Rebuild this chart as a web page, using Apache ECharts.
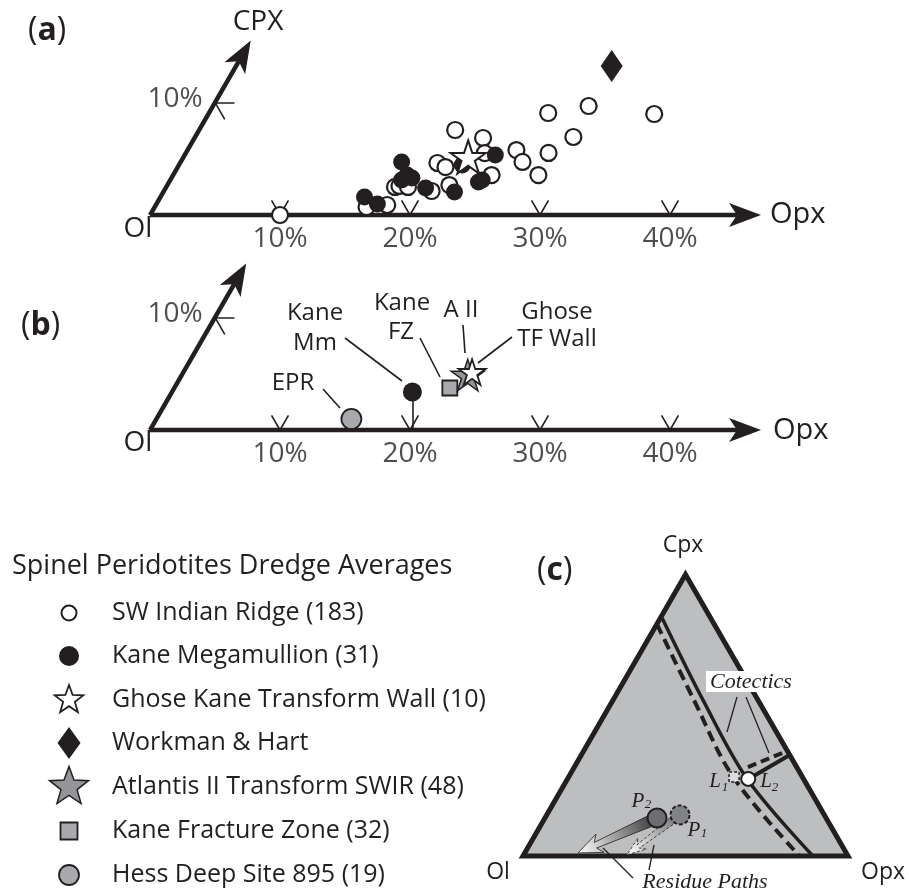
<!DOCTYPE html>
<html>
<head>
<meta charset="utf-8">
<script src="https://cdn.jsdelivr.net/npm/echarts@6/dist/echarts.min.js"></script>
<style>
  html, body { margin: 0; padding: 0; background: #fff; }
  #chart { width: 909px; height: 891px; }
</style>
</head>
<body>
<div id="chart"></div>
<script>
// ternary composition [opx %, cpx %] -> cartesian units (1 unit = 1 % along Opx)
const S3 = Math.sqrt(3) / 2
const tern = (p) => [p[0] + p[1] / 2, p[1] * S3]

// panel (a): dredge averages, [opx %, cpx %]
const swirPts = [
  [10.0, 0], [19.7, 7.55], [22.2, 6.84], [25.3, 5.77], [26.3, 4.71], [28.1, 3.55],
  [19.8, 4.62], [20.6, 4.26], [21.7, 2.66], [20.6, 2.13], [24.5, 3.55], [23.0, 5.5],
  [17.6, 2.49], [17.9, 2.58], [18.6, 2.49], [17.8, 0.89], [16.3, 0.71], [26.1, 9.06],
  [28.9, 9.68], [34.3, 8.97], [29.1, 6.93], [27.9, 5.51]
]
const kaneMmPts = [
  [15.7, 1.6], [17.0, 0.98], [17.0, 4.71], [18.0, 3.55], [18.5, 3.29], [17.8, 3.11],
  [20.0, 2.4], [22.4, 2.04], [21.8, 4.44], [23.9, 5.33], [23.8, 2.93], [24.0, 3.11]
]
const ghosePts = [[21.9, 5.15]]
const workmanPts = [[28.9, 13.23]]

// panel (b): regional averages
const hessAvg = [[15.0, 0.98]]
const kaneMmAvg = [[18.5, 3.37]]
const kaneFzAvg = [[21.2, 3.73]]
const atlantisAvg = [[22.0, 4.88]]
const ghoseAvg = [[22.2, 5.15]]

// axis ticks (percent)
const opxTicks = [10, 20, 30, 40]
const cpxTicks = [10]

// panel (c) schematic, [opx %, cpx %]
const triVerts = [[0, 0], [100, 0], [0, 100]]
const cotecticSolid = [[0.5, 84.6], [27.7, 55.4], [55.7, 27.0], [89.2, 0]]
const cotecticDashed = [[0, 82.4], [24.9, 55.4], [50.6, 28.1], [84.7, 0.3]]
const tieSolid = [[56.4, 28.1], [64.1, 35.9]]
const tieDashed = [[53.4, 31.6], [62.6, 37.3]]
const liquidL1 = [[50.9, 28.1]]
const liquidL2 = [[55.6, 27.4]]
const peridP2 = [[34.5, 13.5]]
const peridP1 = [[41.0, 14.6]]
const residuePaths = [[34.5, 13.5, 16.4, 1.1], [41.0, 14.6, 31.8, 0.4]]

const INK = '#231f20'
const GREY = '#a7a9ac'
const GREY_D = '#939598'
const SANS = '"Open Sans", sans-serif'
const SERIF = '"Liberation Serif", "DejaVu Serif", serif'
const STAR = 'path://M50 0 L61.23 34.55 L97.55 34.55 L68.16 55.9 L79.39 90.45 L50 69.1 L20.61 90.45 L31.84 55.9 L2.45 34.55 L38.77 34.55 Z'

const starPts = (R, r) => {
  const pts = []
  for (let i = 0; i < 10; i++) {
    const a = (-90 + i * 36) * Math.PI / 180
    const rr = i % 2 ? r : R
    pts.push([rr * Math.cos(a), rr * Math.sin(a)])
  }
  return pts
}

const seg = (a, b) => ({ coords: [tern(a), tern(b)] })

function along(a, b) {
  const dx = b[0] - a[0], dy = b[1] - a[1]
  const L = Math.hypot(dx, dy)
  const ux = dx / L, uy = dy / L
  return { L, at: (t, w) => [a[0] + ux * t - uy * w, a[1] + uy * t + ux * w] }
}

// axis arrow drawn in pixel space from data end points
function axisArrow(params, api) {
  const a = api.coord([api.value(0), api.value(1)])
  const b = api.coord([api.value(2), api.value(3)])
  const g = along(a, b)
  const len = 32, half = 12, notch = 8
  const neck = g.at(g.L - len + notch, 0)
  return {
    type: 'group',
    children: [
      { type: 'line', shape: { x1: a[0], y1: a[1], x2: neck[0], y2: neck[1] }, style: { stroke: INK, lineWidth: 4.5 } },
      { type: 'polygon', shape: { points: [g.at(g.L, 0), g.at(g.L - len, half), neck, g.at(g.L - len, -half)] }, style: { fill: INK } }
    ]
  }
}

function axisSeries(gi, cpxEnd, labelDy) {
  const ticks = []
  opxTicks.forEach((t) => {
    ticks.push(seg([t, 0], [t - 1.3, 1.3]), seg([t, 0], [t, 1.3]))
  })
  cpxTicks.forEach((t) => {
    ticks.push(seg([0, t], [1.5, t]), seg([0, t], [1.5, t - 1.5]))
  })
  const labels = opxTicks.map((t) => ({ value: tern([t, 0]), label: { formatter: t + '%', offset: [0, labelDy] } }))
    .concat(cpxTicks.map((t) => ({ value: tern([0, t]), label: { formatter: t + '%', offset: [-40, -3] } })))
  return [
    {
      type: 'custom', coordinateSystem: 'cartesian2d', xAxisIndex: gi, yAxisIndex: gi, silent: true, z: 2,
      data: [[...tern([0, 0]), ...tern([47, 0])], [...tern([0, 0]), ...tern([0, cpxEnd])]],
      renderItem: axisArrow
    },
    {
      type: 'lines', coordinateSystem: 'cartesian2d', xAxisIndex: gi, yAxisIndex: gi, silent: true, z: 2,
      lineStyle: { color: INK, width: 1.6, opacity: 1 }, data: ticks
    },
    {
      type: 'scatter', xAxisIndex: gi, yAxisIndex: gi, silent: true, symbolSize: 1,
      itemStyle: { color: 'rgba(0,0,0,0)' },
      label: { show: true, position: 'inside', fontSize: 28, fontFamily: SANS, color: INK },
      data: labels
    }
  ]
}

const sc = (gi, name, pts, extra) => {
  const s = Object.assign({
    type: 'scatter', name, xAxisIndex: gi, yAxisIndex: gi, data: pts.map(tern), z: 5
  }, extra)
  s.itemStyle = Object.assign({ opacity: 1 }, s.itemStyle)
  return s
}

function residueArrow(params, api) {
  const a = api.coord(tern([api.value(0), api.value(1)]))
  const b = api.coord(tern([api.value(2), api.value(3)]))
  const dashed = params.dataIndex === 1
  const g = along(a, b)
  const hl = dashed ? 14 : 19, hw = dashed ? 7 : 10, w0 = dashed ? 4 : 6, w1 = dashed ? 2 : 3
  const pts = [g.at(0, w0), g.at(g.L - hl, w1), g.at(g.L - hl - 5, hw), g.at(g.L, 0),
    g.at(g.L - hl - 5, -hw), g.at(g.L - hl, -w1), g.at(0, -w0)]
  return {
    type: 'polygon', shape: { points: pts },
    style: {
      fill: new echarts.graphic.LinearGradient(a[0], a[1], b[0], b[1], [
        { offset: 0, color: dashed ? '#6d6e71' : '#333335' },
        { offset: 1, color: '#ffffff' }
      ], true),
      stroke: INK, lineWidth: 0.8, lineDash: dashed ? [3, 2] : null
    }
  }
}

const txt = (x, y, text, size, extra) => ({
  type: 'text', x, y, silent: true, z: 50,
  style: Object.assign({
    text, fill: INK, fontSize: size, fontFamily: SANS,
    align: 'center', textAlign: 'center', verticalAlign: 'middle', textVerticalAlign: 'middle'
  }, extra || {})
})
const lead = (x1, y1, x2, y2, w) => ({
  type: 'line', silent: true, z: 50, shape: { x1, y1, x2, y2 }, style: { stroke: INK, lineWidth: w || 1.6 }
})
const panelTag = (x, y, letter) => txt(x, y, '{n|(}{b|' + letter + '})', 32, {
  align: 'left', textAlign: 'left',
  rich: { n: { fontSize: 32, fontFamily: SANS, fill: INK, color: INK }, b: { fontSize: 32, fontFamily: SANS, fontWeight: 'bold', fill: INK, color: INK } }
})

const legendNames = ['SW Indian Ridge (183)', 'Kane Megamullion (31)', 'Ghose Kane Transform Wall (10)',
  'Workman & Hart', 'Atlantis II Transform SWIR (48)', 'Kane Fracture Zone (32)', 'Hess Deep Site 895 (19)']
const legendRows = [613, 656, 700, 743, 787, 831, 875]
const legendIcons = [
  { type: 'circle', shape: { r: 7.5 }, style: { fill: '#fff', stroke: INK, lineWidth: 2 } },
  { type: 'circle', shape: { r: 10 }, style: { fill: INK } },
  { type: 'polygon', shape: { points: starPts(15, 6.2) }, style: { fill: '#fff', stroke: INK, lineWidth: 1.8 } },
  { type: 'polygon', shape: { points: [[0, -16], [11.5, 0], [0, 16], [-11.5, 0]] }, style: { fill: INK } },
  { type: 'polygon', shape: { points: starPts(20.5, 8.5) }, style: { fill: GREY_D, stroke: INK, lineWidth: 1.5 } },
  { type: 'rect', shape: { x: -8.5, y: -8.5, width: 17, height: 17 }, style: { fill: GREY, stroke: INK, lineWidth: 1.8 } },
  { type: 'circle', shape: { r: 10 }, style: { fill: GREY, stroke: INK, lineWidth: 1.8 } }
]

const graphics = [
  panelTag(28, 31, 'a'),
  panelTag(21, 326, 'b'),
  panelTag(537, 571, 'c'),
  txt(258, 22, 'CPX', 28),
  txt(138, 229, 'Ol', 28),
  txt(770, 215, 'Opx', 29, { align: 'left', textAlign: 'left' }),
  txt(138, 443, 'Ol', 28),
  txt(773, 431, 'Opx', 29, { align: 'left', textAlign: 'left' }),
  // panel (b) annotations
  txt(293, 383, 'EPR', 24),
  txt(315, 313, 'Kane', 24), txt(315, 343, 'Mm', 24),
  txt(402, 303, 'Kane', 24), txt(401, 332, 'FZ', 24),
  txt(461, 310, 'A II', 24),
  txt(557, 312, 'Ghose', 24), txt(557, 339, 'TF Wall', 24),
  lead(323, 389, 340, 408), lead(345, 338, 402, 381), lead(420, 338, 440, 377),
  lead(463, 325, 465, 353), lead(512, 337, 478, 363),
  // legend
  txt(12, 566, 'Spinel Peridotites Dredge Averages', 27, { align: 'left', textAlign: 'left' }),
  // panel (c) labels
  txt(683, 545, 'Cpx', 23), txt(498, 872, 'Ol', 23), txt(883, 872, 'Opx', 23),
  { type: 'rect', silent: true, z: 49, shape: { x: 706, y: 671, width: 90, height: 21 }, style: { fill: '#fff' } },
  txt(751, 682, 'Cotectics', 22, { fontFamily: SERIF, fontStyle: 'italic' }),
  lead(737, 697, 727, 732, 1.3), lead(746, 697, 769, 753, 1.3),
  txt(715, 781, 'L', 21, { fontFamily: SERIF, fontStyle: 'italic' }),
  txt(725, 788, '1', 13, { fontFamily: SERIF, fontStyle: 'italic' }),
  txt(766, 781, 'L', 21, { fontFamily: SERIF, fontStyle: 'italic' }),
  txt(775, 788, '2', 13, { fontFamily: SERIF, fontStyle: 'italic' }),
  txt(638, 801, 'P', 21, { fontFamily: SERIF, fontStyle: 'italic' }),
  txt(648, 805, '2', 13, { fontFamily: SERIF, fontStyle: 'italic' }),
  txt(694, 830, 'P', 21, { fontFamily: SERIF, fontStyle: 'italic' }),
  txt(704, 834, '1', 13, { fontFamily: SERIF, fontStyle: 'italic' }),
  txt(705, 882, 'Residue Paths', 22, { fontFamily: SERIF, fontStyle: 'italic' }),
  lead(603, 848, 633, 878, 1.3), lead(654, 845, 649, 870, 1.3)
]
legendNames.forEach((name, i) => {
  graphics.push(Object.assign({ x: 69, y: legendRows[i], silent: true, z: 50 }, legendIcons[i]))
  graphics.push(txt(112, legendRows[i], name, 25, { align: 'left', textAlign: 'left' }))
})

const kmPt = tern(kaneMmAvg[0])

const option = {
  animation: false,
  backgroundColor: '#fff',
  grid: [
    { left: 150, top: 7, width: 650, height: 208 },
    { left: 150, top: 222, width: 650, height: 208 },
    { left: 523, top: 856 - 86.6 * 3.25, width: 325, height: 86.6 * 3.25 }
  ],
  xAxis: [
    { gridIndex: 0, type: 'value', min: 0, max: 50, show: false },
    { gridIndex: 1, type: 'value', min: 0, max: 50, show: false },
    { gridIndex: 2, type: 'value', min: 0, max: 100, show: false }
  ],
  yAxis: [
    { gridIndex: 0, type: 'value', min: 0, max: 16, show: false },
    { gridIndex: 1, type: 'value', min: 0, max: 16, show: false },
    { gridIndex: 2, type: 'value', min: 0, max: 86.6, show: false }
  ],
  graphic: { elements: graphics },
  series: [
    // (a)
    ...axisSeries(0, 15.5, 24),
    sc(0, 'SW Indian Ridge (183)', swirPts, { symbol: 'circle', symbolSize: 16, itemStyle: { color: '#fff', borderColor: INK, borderWidth: 2.2 } }),
    sc(0, 'Kane Megamullion (31)', kaneMmPts, { symbol: 'circle', symbolSize: 17, itemStyle: { color: INK }, z: 6 }),
    sc(0, 'Ghose Kane Transform Wall (10)', ghosePts, { symbol: STAR, symbolKeepAspect: true, symbolSize: 35, itemStyle: { color: '#fff', borderColor: INK, borderWidth: 2 }, z: 7 }),
    sc(0, 'Workman & Hart', workmanPts, { symbol: 'diamond', symbolSize: [22, 32], itemStyle: { color: INK }, z: 7 }),
    // (b)
    ...axisSeries(1, 14.8, 24),
    {
      type: 'lines', coordinateSystem: 'cartesian2d', xAxisIndex: 1, yAxisIndex: 1, silent: true, z: 3,
      lineStyle: { color: INK, width: 1.6, opacity: 1 },
      data: [{ coords: [kmPt, [kmPt[0], 0]] }]
    },
    sc(1, 'Hess Deep Site 895 (19)', hessAvg, { symbol: 'circle', symbolSize: 20, itemStyle: { color: GREY, borderColor: INK, borderWidth: 1.8 } }),
    sc(1, 'Kane Megamullion (31)', kaneMmAvg, { symbol: 'circle', symbolSize: 19, itemStyle: { color: INK } }),
    sc(1, 'Kane Fracture Zone (32)', kaneFzAvg, { symbol: 'rect', symbolSize: 15, itemStyle: { color: GREY, borderColor: INK, borderWidth: 1.8 } }),
    sc(1, 'Atlantis II Transform SWIR (48)', atlantisAvg, { symbol: STAR, symbolKeepAspect: true, symbolSize: 33, itemStyle: { color: GREY_D, borderColor: INK, borderWidth: 1.5 }, z: 6 }),
    sc(1, 'Ghose Kane Transform Wall (10)', ghoseAvg, { symbol: STAR, symbolKeepAspect: true, symbolSize: 27, itemStyle: { color: '#fff', borderColor: INK, borderWidth: 1.8 }, z: 7 }),
    // (c)
    {
      type: 'custom', coordinateSystem: 'cartesian2d', xAxisIndex: 2, yAxisIndex: 2, silent: true, z: 1,
      data: [tern(triVerts[0])],
      renderItem: (params, api) => ({
        type: 'polygon',
        shape: { points: triVerts.map((v) => api.coord(tern(v))) },
        style: { fill: '#bcbec0', stroke: INK, lineWidth: 5, lineJoin: 'miter' }
      })
    },
    {
      type: 'line', xAxisIndex: 2, yAxisIndex: 2, silent: true, z: 3, smooth: 0.35, showSymbol: false, clip: false,
      data: cotecticSolid.map(tern), lineStyle: { color: INK, width: 3.5 }
    },
    {
      type: 'line', xAxisIndex: 2, yAxisIndex: 2, silent: true, z: 3, smooth: 0.35, showSymbol: false, clip: false,
      data: cotecticDashed.map(tern), lineStyle: { color: INK, width: 4, type: [11, 6] }
    },
    {
      type: 'lines', coordinateSystem: 'cartesian2d', xAxisIndex: 2, yAxisIndex: 2, silent: true, z: 3,
      lineStyle: { color: INK, width: 4, opacity: 1 }, data: [seg(tieSolid[0], tieSolid[1])]
    },
    {
      type: 'lines', coordinateSystem: 'cartesian2d', xAxisIndex: 2, yAxisIndex: 2, silent: true, z: 3,
      lineStyle: { color: INK, width: 4, opacity: 1, type: [9, 5] }, data: [seg(tieDashed[0], tieDashed[1])]
    },
    {
      type: 'custom', coordinateSystem: 'cartesian2d', xAxisIndex: 2, yAxisIndex: 2, silent: true, z: 4,
      data: residuePaths, renderItem: residueArrow
    },
    sc(2, 'P2', peridP2, { symbol: 'circle', symbolSize: 19, silent: true, itemStyle: { color: '#6d6e71', borderColor: INK, borderWidth: 2 } }),
    sc(2, 'P1', peridP1, { symbol: 'circle', symbolSize: 19, silent: true, itemStyle: { color: '#808285', borderColor: INK, borderWidth: 2, borderType: [4, 2] } }),
    sc(2, 'L1', liquidL1, { symbol: 'rect', symbolSize: 10, silent: true, itemStyle: { color: '#dcdddf', borderColor: INK, borderWidth: 1.5, borderType: [3, 2] } }),
    sc(2, 'L2', liquidL2, { symbol: 'circle', symbolSize: 14, silent: true, itemStyle: { color: '#fff', borderColor: INK, borderWidth: 2 }, z: 6 })
  ]
}

const chart = echarts.init(document.getElementById('chart'), null, { renderer: 'canvas' })
chart.setOption(option)
</script>
</body>
</html>
